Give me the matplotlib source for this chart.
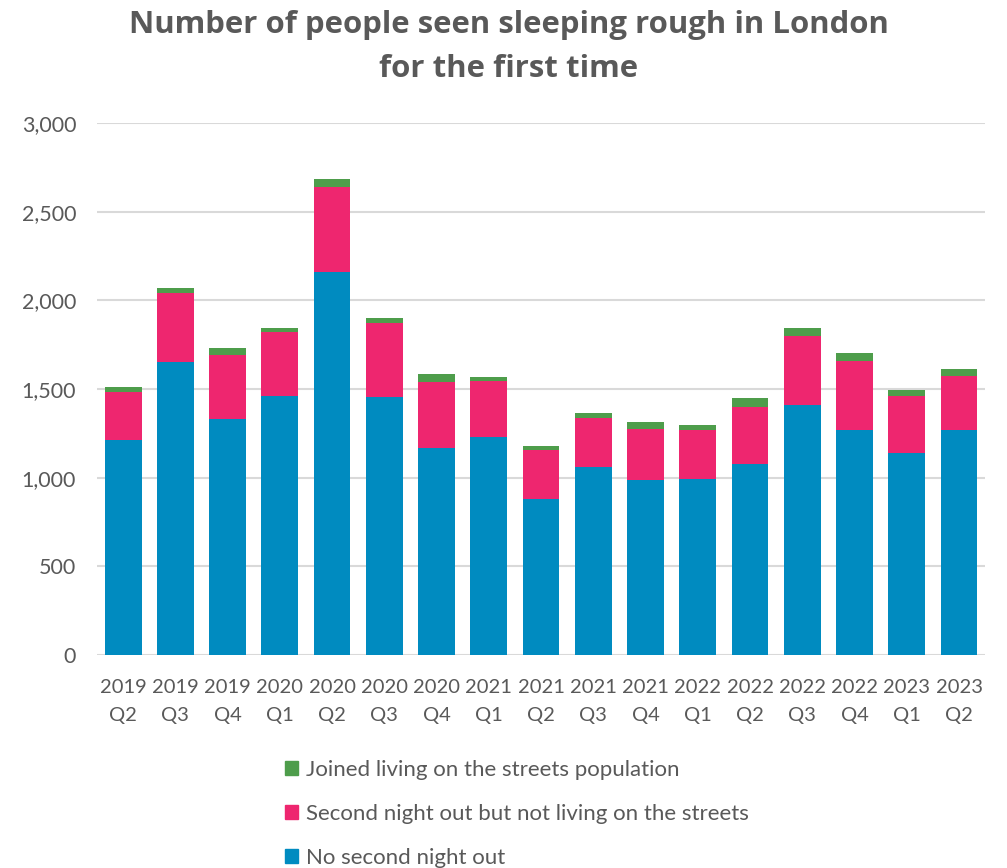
import numpy as np
from matplotlib import pyplot as plt
from matplotlib.patches import Patch

plt.rcParams['font.family'] = ['Lato', 'DejaVu Sans']

quarters = ['2019\nQ2', '2019\nQ3', '2019\nQ4', '2020\nQ1', '2020\nQ2', '2020\nQ3',
            '2020\nQ4', '2021\nQ1', '2021\nQ2', '2021\nQ3', '2021\nQ4', '2022\nQ1',
            '2022\nQ2', '2022\nQ3', '2022\nQ4', '2023\nQ1', '2023\nQ2']
no_second_night = [1212, 1650, 1331, 1459, 2160, 1457, 1167, 1229, 878,
                   1060, 985, 992, 1075, 1408, 1271, 1141, 1271]
second_night = [273, 393, 362, 361, 481, 413, 371, 314, 276,
                278, 289, 279, 325, 393, 389, 321, 304]
joined_streets = [28, 27, 38, 22, 42, 32, 47, 27, 25,
                  25, 42, 26, 47, 45, 41, 31, 38]

BLUE = '#008bc0'
PINK = '#ee266f'
GREEN = '#4e9d4b'
GREY = '#595959'

fig = plt.figure(figsize=(10.07, 8.68), dpi=100)
ax = fig.add_axes([0.0963, 0.2454, 0.882, 0.6129])

x = np.arange(len(quarters))
w = 0.705
blue = np.array(no_second_night)
pink = np.array(second_night)
green = np.array(joined_streets)
ax.bar(x, blue, w, color=BLUE, zorder=3)
ax.bar(x, pink, w, bottom=blue, color=PINK, zorder=3)
ax.bar(x, green, w, bottom=blue + pink, color=GREEN, zorder=3)

ax.set_xlim(-0.5, len(quarters) - 0.5)
ax.set_ylim(0, 3000)
ax.set_yticks(np.arange(0, 3001, 500))
ax.set_yticklabels([f'{v:,}' for v in range(0, 3001, 500)])
ax.set_xticks(x)
ax.set_xticklabels(quarters, linespacing=1.8)
ax.grid(axis='y', color='#d9d9d9', linewidth=1.5, zorder=0)
for s in ax.spines.values():
    s.set_visible(False)
ax.tick_params(axis='y', length=0, pad=15, labelsize=15.5, labelcolor=GREY)
ax.tick_params(axis='x', length=0, pad=17, labelsize=14.5, labelcolor=GREY)

fig.text(0.505, 0.988, 'Number of people seen sleeping rough in London\nfor the first time',
         ha='center', va='top', fontsize=22.4, fontweight='bold', color=GREY,
         family=['Open Sans', 'DejaVu Sans'], linespacing=1.58)

handles = [Patch(color=GREEN), Patch(color=PINK), Patch(color=BLUE)]
labels = ['Joined living on the streets population',
          'Second night out but not living on the streets',
          'No second night out']
fig.legend(handles, labels, loc='upper left', bbox_to_anchor=(0.272, 0.137),
           frameon=False, fontsize=16, labelcolor=GREY, handlelength=0.6,
           handleheight=0.6, handletextpad=0.35, labelspacing=1.08,
           borderpad=0)

fig.savefig('out.png', dpi=100)
